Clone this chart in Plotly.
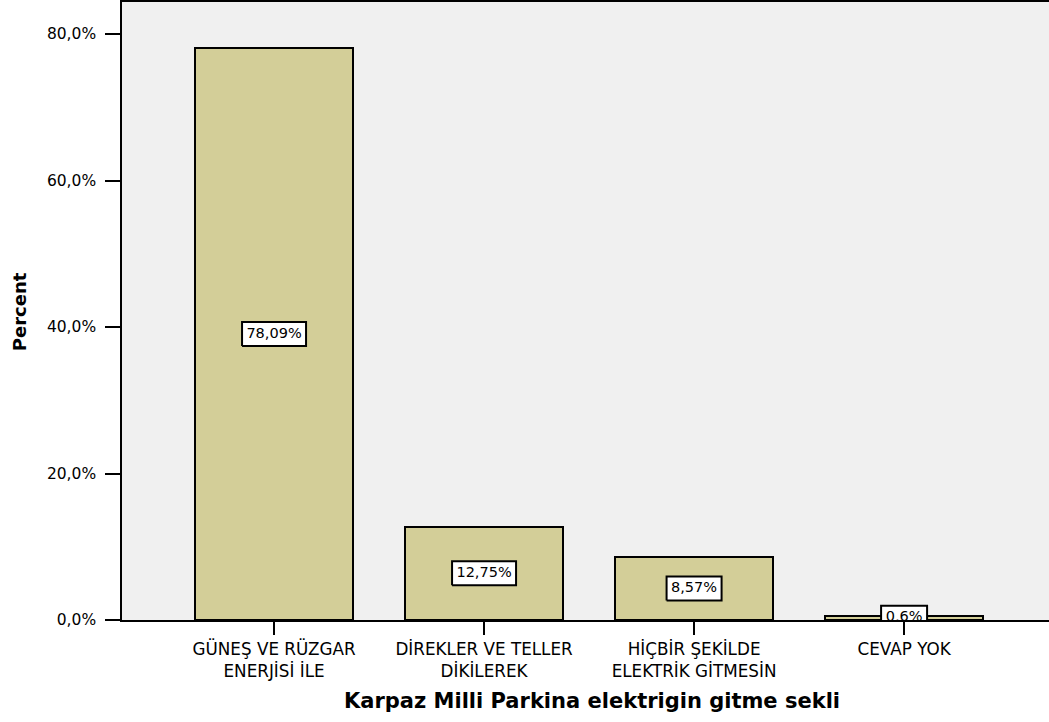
import plotly.graph_objects as go

categories = ["GÜNEŞ VE RÜZGAR<br>ENERJİSİ İLE", "DİREKLER VE TELLER<br>DİKİLEREK",
              "HİÇBİR ŞEKİLDE<br>ELEKTRİK GİTMESİN", "CEVAP YOK"]
percents = [78.09, 12.75, 8.57, 0.6]
value_labels = ["78,09%", "12,75%", "8,57%", "0,6%"]
y_ticks = [0, 20, 40, 60, 80]
y_tick_text = ["0,0%", "20,0%", "40,0%", "60,0%", "80,0%"]

W, H = 1049, 722
ML, MR, MT, MB = 122, 0, 2, 102
X_RANGE = [-0.724, 3.69]
Y_RANGE = [0, 84.37]
px_per_x = (W - ML - MR) / (X_RANGE[1] - X_RANGE[0])
px_per_y = (H - MT - MB) / (Y_RANGE[1] - Y_RANGE[0])

xs = list(range(len(categories)))
FONT = "DejaVu Sans, Verdana, sans-serif"

fig = go.Figure()
fig.add_trace(go.Bar(
    x=xs, y=percents, width=0.752,
    marker=dict(color="#d3ce98", line=dict(color="#000000", width=2)),
    hoverinfo="skip", showlegend=False))

# label boxes
bx, by = [], []
for i, (v, lab) in enumerate(zip(percents, value_labels)):
    w = (9 * len(lab) + 10) / px_per_x
    h = 24 / px_per_y
    cy = v / 2
    bx += [i - w / 2, i + w / 2, i + w / 2, i - w / 2, i - w / 2, None]
    by += [cy - h / 2, cy - h / 2, cy + h / 2, cy + h / 2, cy - h / 2, None]
fig.add_trace(go.Scatter(x=bx, y=by, mode="lines", fill="toself", fillcolor="white",
                         line=dict(color="black", width=2), hoverinfo="skip", showlegend=False))
fig.add_trace(go.Scatter(x=xs, y=[v / 2 for v in percents], mode="text", text=value_labels,
                         textposition="middle center", cliponaxis=True,
                         textfont=dict(family=FONT, size=14.5, color="black"),
                         hoverinfo="skip", showlegend=False))

fig.update_layout(
    width=W, height=H,
    margin=dict(l=ML, r=MR, t=MT, b=MB),
    paper_bgcolor="white", plot_bgcolor="#f0f0f0",
    font=dict(family=FONT, color="black"),
    bargap=0,
    xaxis=dict(range=X_RANGE, tickvals=xs, ticktext=categories, ticks="outside",
               ticklen=13, tickwidth=2, tickcolor="black", showgrid=False, zeroline=False,
               showline=True, linecolor="black", linewidth=1.5, mirror=True,
               tickfont=dict(family=FONT, size=16.8, color="black")),
    yaxis=dict(range=Y_RANGE, tickvals=y_ticks, ticktext=y_tick_text, ticks="outside",
               ticklen=15, tickwidth=2, tickcolor="black", showgrid=False, zeroline=False,
               showline=True, linecolor="black", linewidth=1.5,
               tickfont=dict(family=FONT, size=15.5, color="black"), ticklabelstandoff=6),
    annotations=[
        dict(text="<b>Karpaz Milli Parkina elektrigin gitme sekli</b>", xref="paper", yref="paper",
             x=0.5, xshift=6, y=0, yshift=-81, xanchor="center", yanchor="middle", showarrow=False,
             font=dict(family=FONT, size=21, color="black")),
        dict(text="<b>Percent</b>", xref="paper", yref="paper", x=0, xshift=-103, y=0.498,
             xanchor="center", yanchor="middle", textangle=-90, showarrow=False,
             font=dict(family=FONT, size=18, color="black")),
    ],
)

fig.write_html("out.html", config={"displayModeBar": False},
               post_script="document.body.style.margin='0';")
